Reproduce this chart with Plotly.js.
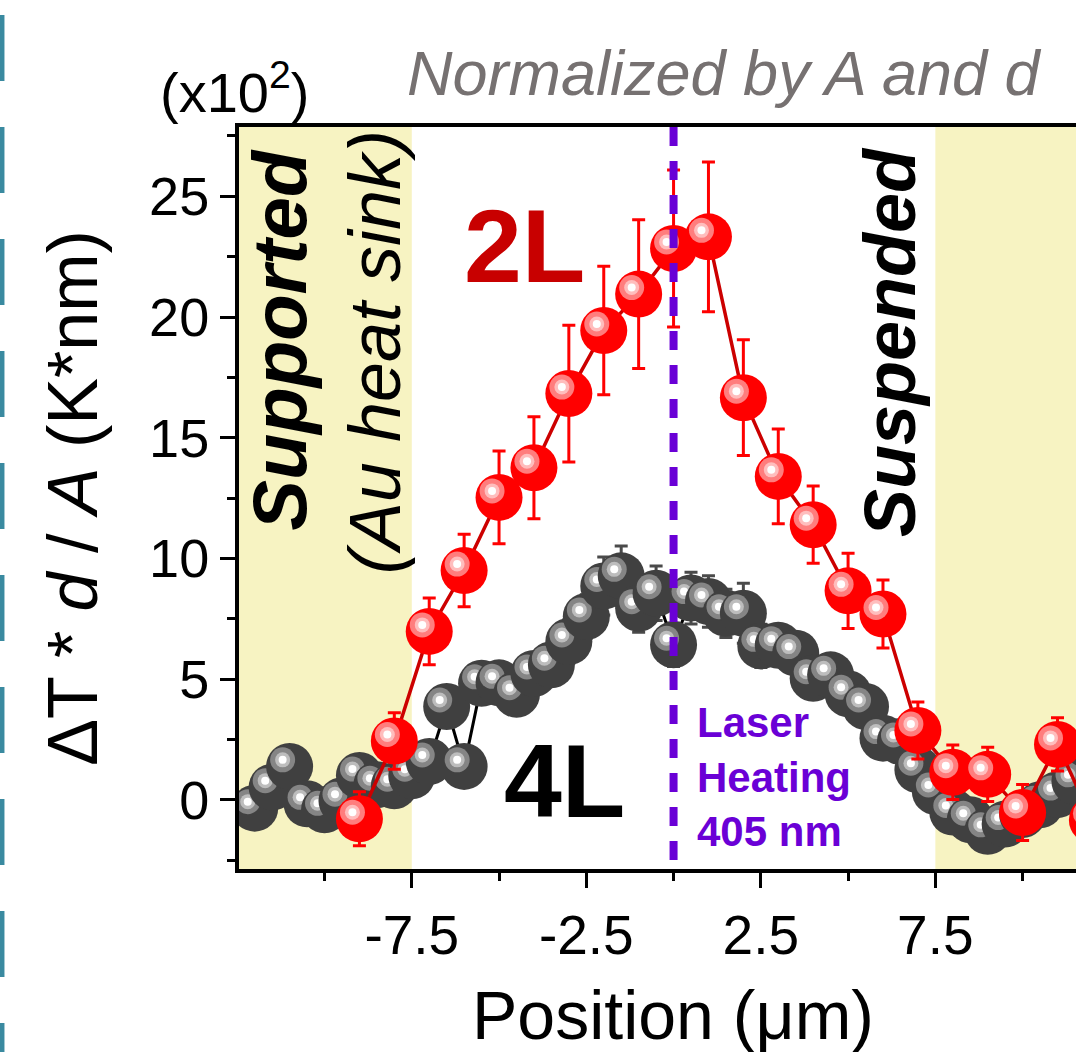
<!DOCTYPE html>
<html>
<head>
<meta charset="utf-8">
<script src="https://cdn.plot.ly/plotly-3.0.1.min.js"></script>
<style>html,body{margin:0;padding:0;background:#fff;overflow:hidden}</style>
</head>
<body>
<div id="chart" style="width:1076px;height:1052px"></div>
<script>
// ---- data ----
const x2L = [-9,-8,-7,-6,-5,-4,-3,-2,-1,0,1,2,3,4,5,6,7,8,9,10,11,12];
const y2L = [-0.78,2.44,6.98,9.5,12.53,13.76,16.83,19.44,20.95,22.84,23.32,16.66,13.4,11.4,8.66,7.7,2.88,1.15,1.06,-0.52,2.3,-0.83];
const err2L = [1.12,1.17,1.38,1.5,1.92,2.11,2.83,2.66,3.08,3.25,3.1,2.4,1.96,1.6,1.56,1.41,1.18,1.13,1.12,1.16,1.1,1.1];

const x4L = [-12,-11.5,-11,-10.5,-10,-9.5,-9,-8.5,-8,-7.5,-7,-6.5,-6,-5.5,-5,-4.5,-4,-3.5,-3,-2.5,-2,-1.5,-1,-0.5,0,0.5,1,1.5,2,2.5,3,3.5,4,4.5,5,5.5,6,6.5,7,7.5,8,8.5,9,9.5,10,10.5,11,11.5];
const y4L = [-0.34,0.53,1.39,-0.16,-0.41,-0.03,1.01,0.63,0.59,1.0,1.59,3.87,1.39,4.83,4.85,4.38,5.24,5.6,6.56,7.6,8.86,9.28,7.94,8.56,6.43,8.36,8.22,7.73,7.73,6.38,6.41,6.08,5.04,5.18,4.40,3.87,2.56,2.42,1.25,0.35,-0.5,-0.82,-1.30,-1.0,-0.6,-0.2,0.22,0.77];
const err4L = [0.5,0.5,0.5,0.5,0.5,0.5,0.5,0.5,0.5,0.5,0.6,0.7,0.6,0.7,0.7,0.7,0.8,0.8,0.9,0.9,1.2,1.24,1.0,1.13,0.9,1.07,1.07,1.0,1.24,0.9,0.8,0.8,0.8,0.7,0.7,0.6,0.6,0.6,0.5,0.5,0.5,0.5,0.5,0.5,0.5,0.5,0.5,0.5];

const xTickVals = [-7.5,-2.5,2.5,7.5];
const xTickText = ['-7.5','-2.5','2.5','7.5'];
const xMinorVals = [-10,-5,0,5,10];
const yTickVals = [0,5,10,15,20,25];
const yTickText = ['0','5','10','15','20','25'];
const yMinorVals = [-2.5,2.5,7.5,12.5,17.5,22.5,27.5];

const supportedEdge = -7.5;
const suspendedEdge = 7.5;
const laserPos = 0;

// ---- style ----
const FONT = 'Arial, "Liberation Sans", sans-serif';
const XR = [-12.45, 11.53];
const YR = [-2.86, 27.87];
// highlight offset of the shaded spheres (about -7px, -6.5px)
const HX = -0.2, HY = 0.27;

function sphereTrace(xs, ys, body, ring, inner) {
  const X = [], Y = [], S = [], C = [];
  xs.forEach((x, i) => {
    X.push(x, x + HX, x + HX, x + HX);
    Y.push(ys[i], ys[i] + HY, ys[i] + HY, ys[i] + HY);
    S.push(47, 25, 15, 8);
    C.push(body, ring, inner, '#ffffff');
  });
  return {type: 'scatter', mode: 'markers', x: X, y: Y,
    marker: {size: S, color: C, opacity: 1, line: {width: 0}},
    hoverinfo: 'skip', showlegend: false};
}

const traces = [
  {type: 'scatter', mode: 'lines', x: x4L, y: y4L,
   line: {color: '#000000', width: 3},
   error_y: {type: 'data', array: err4L, visible: true, color: '#4a4a4a', thickness: 3, width: 6.5},
   hoverinfo: 'skip', showlegend: false},
  sphereTrace(x4L, y4L, '#404040', '#858585', '#bdbdbd'),
  {type: 'scatter', mode: 'lines', x: x2L, y: y2L,
   line: {color: '#cc0000', width: 3.5},
   error_y: {type: 'data', array: err2L, visible: true, color: '#ff0000', thickness: 3, width: 6.5},
   hoverinfo: 'skip', showlegend: false},
  sphereTrace(x2L, y2L, '#ff0000', '#ff7d7d', '#ffbdbd')
];

const layout = {
  width: 1076, height: 1052,
  margin: {l: 239, r: 0, t: 127, b: 183, pad: 0},
  paper_bgcolor: '#ffffff', plot_bgcolor: '#ffffff',
  font: {family: FONT, color: '#000000'},
  showlegend: false,
  xaxis: {
    range: XR, autorange: false,
    tickmode: 'array', tickvals: xTickVals, ticktext: xTickText,
    ticks: 'outside', ticklen: 15, tickwidth: 3, tickcolor: '#000',
    minor: {tickmode: 'array', tickvals: xMinorVals, ticks: 'outside', ticklen: 8, tickwidth: 3, tickcolor: '#000', showgrid: false},
    showline: true, linewidth: 4, linecolor: '#000', mirror: true,
    showgrid: false, zeroline: false,
    tickfont: {size: 55, family: FONT, color: '#000'}
  },
  yaxis: {
    range: YR, autorange: false,
    tickmode: 'array', tickvals: yTickVals, ticktext: yTickText,
    ticks: 'outside', ticklen: 15, tickwidth: 3, tickcolor: '#000',
    minor: {tickmode: 'array', tickvals: yMinorVals, ticks: 'outside', ticklen: 8, tickwidth: 3, tickcolor: '#000', showgrid: false},
    showline: true, linewidth: 4, linecolor: '#000', mirror: true,
    showgrid: false, zeroline: false,
    tickfont: {size: 54, family: FONT, color: '#000'},
    title: {text: 'ΔT * <i>d</i> / <i>A</i> (K*nm)', font: {size: 70, family: FONT, color: '#000'}, standoff: 30}
  },
  shapes: [
    {type: 'rect', layer: 'below', xref: 'x', yref: 'paper', x0: XR[0], x1: supportedEdge, y0: 0, y1: 1,
     fillcolor: '#f7f3c2', line: {width: 0}},
    {type: 'rect', layer: 'below', xref: 'x', yref: 'paper', x0: suspendedEdge, x1: XR[1], y0: 0, y1: 1,
     fillcolor: '#f7f3c2', line: {width: 0}},
    {type: 'line', layer: 'above', xref: 'x', yref: 'paper', x0: laserPos, x1: laserPos, y0: 1, y1: 0,
     line: {color: '#6a00d6', width: 8, dash: '19px,15px'}},
    {type: 'line', layer: 'above', xref: 'paper', yref: 'paper', x0: -0.2832, x1: -0.2832, y0: 1.1509, y1: -0.2466,
     line: {color: '#3a8aa0', width: 5, dash: '66px,46px'}}
  ],
  annotations: [
    {xref: 'paper', yref: 'paper', x: 0.5185, y: -0.1968, xanchor: 'center', yanchor: 'middle', showarrow: false,
     text: 'Position (μm)', font: {size: 68, family: FONT, color: '#000'}},
    {xref: 'paper', yref: 'paper', x: 0.5795, y: 1.0728, xanchor: 'center', yanchor: 'middle', showarrow: false,
     text: '<i>Normalized by A and d</i>', font: {size: 63, family: FONT, color: '#767171'}},
    {xref: 'paper', yref: 'paper', x: -0.0048, y: 1.052, xanchor: 'center', yanchor: 'middle', showarrow: false,
     text: '(x10<sup>2</sup>)', font: {size: 56, family: FONT, color: '#000'}},
    {xref: 'x', yref: 'y', x: -4.28, y: 22.95, xanchor: 'center', yanchor: 'middle', showarrow: false,
     text: '<b>2L</b>', font: {size: 104, family: FONT, color: '#c80000'}},
    {xref: 'x', yref: 'y', x: -3.12, y: 0.78, xanchor: 'center', yanchor: 'middle', showarrow: false,
     text: '<b>4L</b>', font: {size: 104, family: FONT, color: '#000'}},
    {xref: 'x', yref: 'y', x: -11.28, y: 19.05, xanchor: 'center', yanchor: 'middle', showarrow: false, textangle: -90,
     text: '<b><i>Supported</i></b>', font: {size: 76, family: FONT, color: '#000'}},
    {xref: 'x', yref: 'y', x: -8.55, y: 18.55, xanchor: 'center', yanchor: 'middle', showarrow: false, textangle: -90,
     text: '<i>(Au heat sink)</i>', font: {size: 72, family: FONT, color: '#000'}},
    {xref: 'x', yref: 'y', x: 6.2, y: 18.96, xanchor: 'center', yanchor: 'middle', showarrow: false, textangle: -90,
     text: '<b><i>Suspended</i></b>', font: {size: 72, family: FONT, color: '#000'}},
    {xref: 'x', yref: 'y', x: 0.6, y: 0.95, xanchor: 'left', yanchor: 'middle', align: 'left', showarrow: false,
     text: '<b>Laser<br>Heating<br>405 nm</b>', font: {size: 42, family: FONT, color: '#6a00d6'}}
  ]
};

Plotly.newPlot('chart', traces, layout, {staticPlot: true, displayModeBar: false});
</script>
</body>
</html>
